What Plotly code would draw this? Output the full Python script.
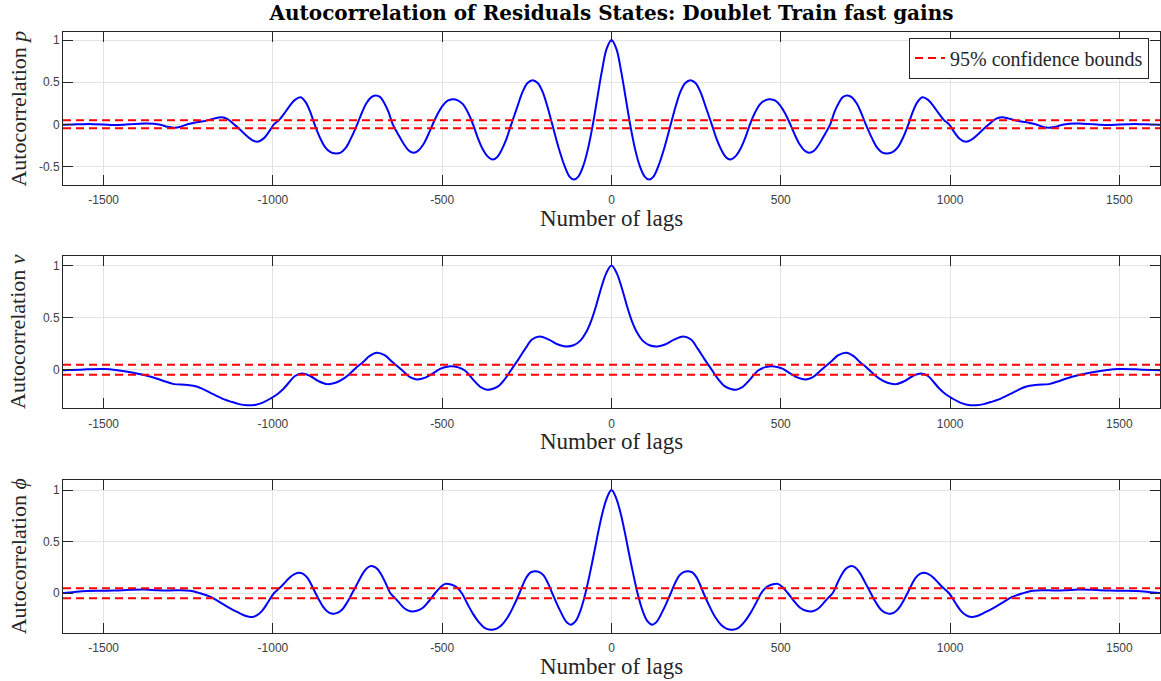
import plotly.graph_objects as go

# ---- data: one-sided autocorrelation (lag >= 0); the function is even in lag ----
lags_p = [0, 14, 28, 42, 55, 70, 84, 98, 111, 124, 138, 156, 175, 190, 204, 218, 233, 248,
          262, 278, 296, 310, 324, 338, 351, 366, 381, 395, 409, 424, 439, 454, 469, 484,
          499, 514, 528, 542, 556, 570, 584, 599, 614, 630, 646, 659, 672, 684, 697, 710,
          724, 737, 751, 770, 785, 800, 815, 830, 846, 862, 877, 890, 903, 918, 935, 952,
          968, 982, 997, 1012, 1028, 1046, 1064, 1082, 1099, 1115, 1128, 1141, 1154, 1170,
          1190, 1210, 1230, 1250, 1270, 1292, 1312, 1332, 1351, 1380, 1410, 1440, 1470,
          1500, 1530, 1560, 1590, 1620]
acf_p = [1.0, 0.9, 0.64, 0.31, 0.0, -0.3, -0.5, -0.62, -0.655, -0.62, -0.5, -0.28, 0.0,
         0.22, 0.39, 0.49, 0.524, 0.49, 0.39, 0.21, 0.0, -0.17, -0.3, -0.39, -0.417, -0.38,
         -0.29, -0.16, 0.0, 0.14, 0.24, 0.285, 0.297, 0.28, 0.22, 0.12, 0.0, -0.13, -0.24,
         -0.31, -0.338, -0.31, -0.23, -0.12, 0.0, 0.15, 0.26, 0.325, 0.341, 0.32, 0.25,
         0.14, 0.0, -0.17, -0.28, -0.335, -0.345, -0.33, -0.27, -0.15, 0.0, 0.15, 0.26,
         0.321, 0.29, 0.21, 0.12, 0.05, 0.0, -0.09, -0.17, -0.207, -0.18, -0.12, -0.055,
         0.0, 0.045, 0.075, 0.083, 0.072, 0.05, 0.033, 0.02, 0.003, -0.025, -0.04, -0.03,
         -0.005, 0.007, 0.009, 0.004, -0.004, -0.008, -0.002, 0.002, 0.002, -0.001, -0.004]

lags_v = [0, 15, 30, 45, 60, 75, 92, 112, 136, 160, 185, 213, 235, 255, 275, 296, 315, 335,
          355, 368, 385, 410, 432, 455, 481, 505, 530, 550, 574, 595, 620, 648, 670, 694,
          715, 735, 751, 770, 790, 815, 840, 865, 890, 914, 935, 952, 968, 987, 1007, 1030,
          1050, 1076, 1100, 1120, 1144, 1180, 1223, 1260, 1292, 1325, 1360, 1395, 1429,
          1465, 1498, 1557, 1620]
acf_v = [1.0, 0.93, 0.79, 0.62, 0.47, 0.36, 0.28, 0.235, 0.224, 0.245, 0.29, 0.32, 0.29, 0.2,
         0.1, 0.0, -0.09, -0.16, -0.188, -0.192, -0.17, -0.09, -0.01, 0.025, 0.032, 0.01,
         -0.04, -0.075, -0.093, -0.07, 0.0, 0.077, 0.14, 0.163, 0.13, 0.07, 0.029, -0.03,
         -0.083, -0.125, -0.138, -0.11, -0.06, -0.035, -0.06, -0.12, -0.18, -0.235, -0.276,
         -0.315, -0.335, -0.34, -0.33, -0.31, -0.285, -0.23, -0.163, -0.145, -0.138, -0.105,
         -0.067, -0.04, -0.019, -0.002, 0.006, 0.003, -0.006]

lags_phi = [0, 14, 28, 40, 52, 64, 77, 92, 106, 121, 135, 150, 163, 175, 188, 200, 213, 227,
            240, 252, 262, 272, 290, 308, 325, 341, 358, 375, 392, 409, 426, 442, 458, 474,
            491, 506, 521, 540, 557, 575, 594, 610, 625, 640, 653, 666, 678, 690, 700, 709,
            720, 733, 748, 766, 781, 796, 812, 827, 840, 852, 863, 874, 886, 898, 912, 928,
            944, 960, 977, 997, 1015, 1032, 1048, 1063, 1080, 1100, 1125, 1155, 1184, 1215,
            1245, 1275, 1305, 1340, 1380, 1420, 1468, 1510, 1550, 1585, 1620]
acf_phi = [1.0, 0.92, 0.76, 0.58, 0.38, 0.19, 0.0, -0.17, -0.27, -0.304, -0.27, -0.18,
           -0.09, 0.0, 0.1, 0.17, 0.205, 0.214, 0.2, 0.15, 0.08, 0.0, -0.13, -0.24, -0.31,
           -0.345, -0.353, -0.335, -0.28, -0.2, -0.1, 0.0, 0.06, 0.085, 0.091, 0.055, 0.0,
           -0.08, -0.14, -0.17, -0.175, -0.15, -0.1, -0.045, 0.0, 0.09, 0.17, 0.23, 0.255,
           0.265, 0.25, 0.2, 0.11, 0.0, -0.09, -0.16, -0.193, -0.197, -0.175, -0.13, -0.07,
           0.0, 0.08, 0.15, 0.19, 0.197, 0.17, 0.12, 0.06, 0.0, -0.09, -0.17, -0.215, -0.23,
           -0.22, -0.19, -0.149, -0.09, -0.036, 0.0, 0.025, 0.029, 0.027, 0.03, 0.036, 0.033,
           0.026, 0.024, 0.021, 0.013, 0.003]

conf_bound = 0.048          # 95% confidence bound
lag_limits = [-1620, 1620]

x_tickvals = [-1500, -1000, -500, 0, 500, 1000, 1500]
x_ticktext = ["-1500", "-1000", "-500", "0", "500", "1000", "1500"]
y_tickvals = [[-0.5, 0, 0.5, 1], [0, 0.5, 1], [0, 0.5, 1]]
y_ticktext = [["-0.5", "0", "0.5", "1"], ["0", "0.5", "1"], ["0", "0.5", "1"]]
y_ranges = [[-0.72, 1.095], [-0.37, 1.095], [-0.385, 1.1]]
y_labels = ["Autocorrelation <i>p</i>", "Autocorrelation <i>v</i>", "Autocorrelation <i>ϕ</i>"]
title_text = "<b>Autocorrelation of Residuals States: Doublet Train fast gains</b>"


def two_sided(lags, vals):
    """Full lag axis from the one-sided autocorrelation (even function)."""
    x = [-l for l in reversed(lags[1:])] + list(lags)
    y = list(reversed(vals[1:])) + list(vals)
    return x, y


series = [(lags_p, acf_p), (lags_v, acf_v), (lags_phi, acf_phi)]
domains = [[0.7454, 1.0], [0.3739, 0.6278], [0.0, 0.2551]]

AX_COLOR = "#262626"
SERIF = "Liberation Serif, Times New Roman, serif"
SANS = "Liberation Sans, Arial, sans-serif"

fig = go.Figure()
layout_axes = {}
annotations = []

for i, (lags, vals) in enumerate(series):
    n = "" if i == 0 else str(i + 1)
    xa, ya = "x" + n, "y" + n
    x, y = two_sided(lags, vals)

    fig.add_trace(go.Scatter(
        x=x, y=y, mode="lines", xaxis=xa, yaxis=ya, showlegend=False,
        line=dict(color="#0000ff", width=2, shape="spline", smoothing=1.0)))
    for k, b in enumerate([conf_bound, -conf_bound]):
        fig.add_trace(go.Scatter(
            x=lag_limits, y=[b, b], mode="lines", xaxis=xa, yaxis=ya,
            name="95% confidence bounds", showlegend=(i == 0 and k == 0),
            line=dict(color="#ff0000", width=2, dash="8px,5px")))

    common = dict(showline=True, linecolor=AX_COLOR, linewidth=1, mirror="allticks",
                  ticks="inside", ticklen=10, tickwidth=1, tickcolor=AX_COLOR,
                  showgrid=True, gridcolor="#e3e3e3", gridwidth=1, zeroline=False,
                  tickfont=dict(family=SANS, size=12, color="#404040"))
    layout_axes["xaxis" + n] = dict(common, domain=[0, 1], anchor=ya, range=lag_limits,
                                   tickvals=x_tickvals, ticktext=x_ticktext,
                                   ticklabelstandoff=4)
    layout_axes["yaxis" + n] = dict(common, domain=domains[i], anchor=xa, range=y_ranges[i],
                                   tickvals=y_tickvals[i], ticktext=y_ticktext[i])

    annotations.append(dict(text=y_labels[i], textangle=-90, showarrow=False,
                            xref="paper", x=-0.041, xanchor="center",
                            yref=ya + " domain", y=0.5, yanchor="middle",
                            font=dict(family=SERIF, size=22, color="#262626")))
    annotations.append(dict(text="Number of lags", showarrow=False,
                            xref=xa + " domain", x=0.5, xanchor="center",
                            yref=ya + " domain", y=0, yanchor="middle", yshift=-33,
                            font=dict(family=SERIF, size=23, color="#262626")))

fig.update_layout(
    width=1161, height=681,
    margin=dict(l=63, r=1, t=32, b=48),
    paper_bgcolor="white", plot_bgcolor="white",
    title=dict(text=title_text, x=0.5, xref="paper", xanchor="center",
               y=1 - 13 / 681, yref="container", yanchor="middle",
               font=dict(family="DejaVu Serif, serif", size=20, color="black")),
    legend=dict(x=0.99, y=0.9907, xanchor="right", yanchor="top",
                bgcolor="white", bordercolor=AX_COLOR, borderwidth=1,
                font=dict(family=SERIF, size=20, color="#262626")),
    annotations=annotations,
    **layout_axes,
)

fig.write_html("out.html")
